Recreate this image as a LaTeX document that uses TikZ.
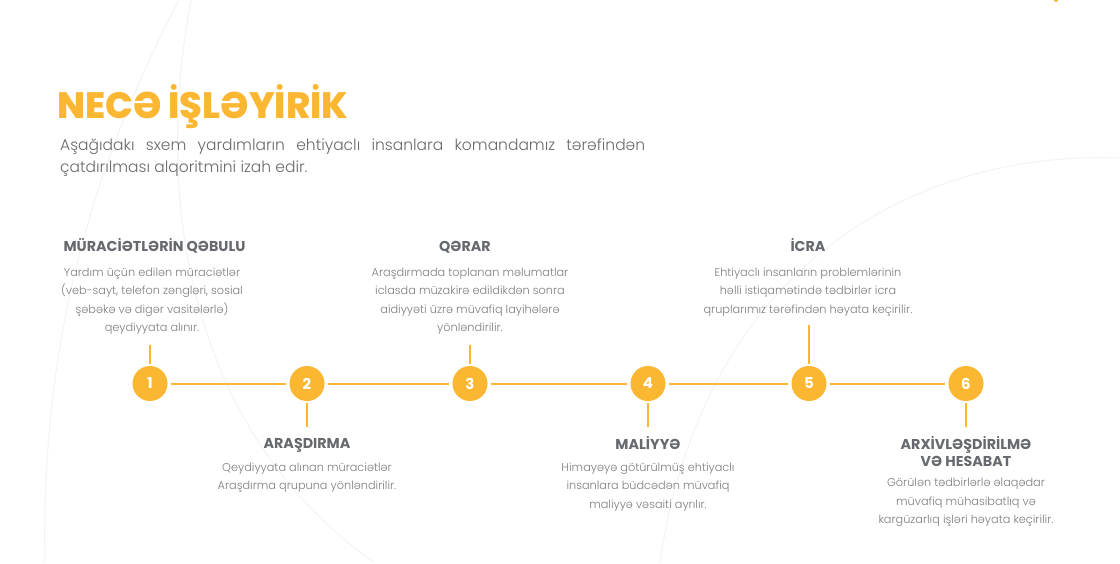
\documentclass[tikz,border=0pt]{standalone}
\usepackage{fontspec}
\setmainfont{Poppins}
\newfontfamily\lightfont{Poppins Light}
\newfontfamily\xboldfont{Poppins ExtraBold}
\definecolor{ylw}{HTML}{FBB732}
\definecolor{headgray}{HTML}{666A6F}
\definecolor{bodygray}{HTML}{7E7E7E}
\definecolor{subgray}{HTML}{6A6A6A}
\definecolor{faint}{HTML}{F4F4F4}
\begin{document}
\begin{tikzpicture}[x=1pt,y=-1pt,
  stepcircle/.style={circle,fill=ylw,minimum size=35pt,inner sep=0pt,text=white,font=\bfseries\fontsize{15}{15}\selectfont},
  conn/.style={draw=ylw,line width=2pt,shorten >=3pt,shorten <=3pt},
  tick/.style={draw=ylw,line width=1.2pt,shorten >=1.5pt},
  head/.style={anchor=base,inner sep=0pt,align=center,text=headgray,font=\bfseries\fontsize{14.3}{17.2}\selectfont},
  body/.style={anchor=base,inner sep=0pt,align=center,text=bodygray,font=\lightfont\fontsize{11.3}{18.3}\selectfont},
  bg/.style={draw=faint,line width=1pt}]
\useasboundingbox[fill=white] (0,0) rectangle (1120,563);
% faint background arcs
\draw[bg] (179,0) .. controls (100,150) and (40,330) .. (45,563);
\draw[bg] (191,0) .. controls (150,220) and (200,440) .. (375,563);
\draw[bg] (1120,158) .. controls (900,150) and (700,280) .. (660,563);
\fill[ylw] (1056,0) circle (2pt);
% title and subtitle
\node[anchor=base west,inner sep=0pt,text=ylw,font=\xboldfont\fontsize{36.7}{36.7}\selectfont] (title) at (57,118) {NECƏ İŞLƏYİRİK};
\node[anchor=base west,inner sep=0pt,text width=585pt,align=justify,text=subgray,font=\lightfont\fontsize{15.5}{21.8}\selectfont] (sub) at (60,150.7)
  {Aşağıdakı sxem yardımların ehtiyaclı insanlara komandamız tərəfindən\linebreak çatdırılması alqoritmini izah edir.};
% steps
\node[stepcircle] (c1) at (150,383.5) {1};
\node[stepcircle] (c2) at (307,383.5) {2};
\node[stepcircle] (c3) at (470,383.5) {3};
\node[stepcircle] (c4) at (648,383.5) {4};
\node[stepcircle] (c5) at (809,383.5) {5};
\node[stepcircle] (c6) at (966,383.5) {6};
\draw[conn] (c1) -- (c2);
\draw[conn] (c2) -- (c3);
\draw[conn] (c3) -- (c4);
\draw[conn] (c4) -- (c5);
\draw[conn] (c5) -- (c6);
% ticks
\coordinate (t1) at (150,344.7);
\coordinate (t3) at (470,344.7);
\coordinate (t5) at (809,325);
\coordinate (t2) at (307,426.6);
\coordinate (t4) at (648,426.6);
\coordinate (t6) at (966,426.6);
\draw[tick] (t1) -- (c1);
\draw[tick] (t3) -- (c3);
\draw[tick] (t5) -- (c5);
\draw[tick] (t2) -- (c2);
\draw[tick] (t4) -- (c4);
\draw[tick] (t6) -- (c6);
% texts top (body nodes anchored at the baseline of their last line)
\node[head] (h1) at (154.5,251) {MÜRACİƏTLƏRİN QƏBULU};
\node[body] (b1) at (152,331.5) {Yardım üçün edilən müraciətlər\\(veb-sayt, telefon zəngləri, sosial\\şəbəkə və digər vasitələrlə)\\qeydiyyata alınır.};
\node[head] (h3) at (465,251) {QƏRAR};
\node[body] (b3) at (470,331.5) {Araşdırmada toplanan məlumatlar\\iclasda müzakirə edildikdən sonra\\aidiyyəti üzrə müvafiq layihələrə\\yönləndirilir.};
\node[head] (h5) at (808,251) {İCRA};
\node[body] (b5) at (808,313) {Ehtiyaclı insanların problemlərinin\\həlli istiqamətində tədbirlər icra\\qruplarımız tərəfindən həyata keçirilir.};
% texts bottom
\node[head] (h2) at (307,448) {ARAŞDIRMA};
\node[body] (b2) at (307,489.3) {Qeydiyyata alınan müraciətlər\\Araşdırma qrupuna yönləndirilir.};
\node[head] (h4) at (648,449) {MALİYYƏ};
\node[body] (b4) at (648,508) {Himayəyə götürülmüş ehtiyaclı\\insanlara büdcədən müvafiq\\maliyyə vəsaiti ayrılır.};
\node[head] (h6) at (966,466.8) {ARXİVLƏŞDİRİLMƏ\\VƏ HESABAT};
\node[body] (b6) at (966,523.5) {Görülən tədbirlərlə əlaqədar\\müvafiq mühasibatlıq və\\kargüzarlıq işləri həyata keçirilir.};
\end{tikzpicture}
\end{document}
